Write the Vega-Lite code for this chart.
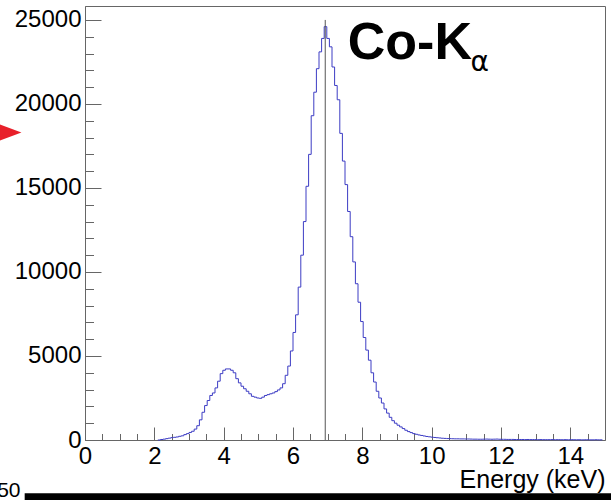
{
  "$schema": "https://vega.github.io/schema/vega-lite/v6.json",
  "autosize": {"type": "none"},
  "padding": {"left": 85, "top": 6, "right": 6, "bottom": 60},
  "width": 520,
  "height": 434,
  "background": "white",
  "config": {
    "view": {"stroke": "#666", "strokeWidth": 1},
    "axis": {
      "grid": false,
      "labelFont": "Liberation Sans",
      "labelFontSize": 24,
      "labelColor": "#000",
      "labelOverlap": false,
      "labelFlush": false,
      "tickColor": "#666",
      "domainColor": "#666",
      "titleFont": "Liberation Sans",
      "titleFontWeight": "normal",
      "titleFontSize": 25,
      "titleColor": "#000"
    }
  },
  "datasets": {
    "spectrum": [
      {"e": 2.1, "n": 0}, {"e": 2.175, "n": 30}, {"e": 2.25, "n": 50}, {"e": 2.325, "n": 80},
      {"e": 2.4, "n": 110}, {"e": 2.475, "n": 140}, {"e": 2.55, "n": 160}, {"e": 2.625, "n": 180},
      {"e": 2.7, "n": 220}, {"e": 2.775, "n": 250}, {"e": 2.85, "n": 320}, {"e": 2.925, "n": 380},
      {"e": 3.0, "n": 450}, {"e": 3.075, "n": 520}, {"e": 3.15, "n": 650}, {"e": 3.225, "n": 850},
      {"e": 3.3, "n": 1200}, {"e": 3.375, "n": 1650}, {"e": 3.45, "n": 2050}, {"e": 3.525, "n": 2350},
      {"e": 3.6, "n": 2650}, {"e": 3.675, "n": 2800}, {"e": 3.75, "n": 3100}, {"e": 3.825, "n": 3500},
      {"e": 3.9, "n": 3950}, {"e": 3.975, "n": 4150}, {"e": 4.05, "n": 4230}, {"e": 4.125, "n": 4230},
      {"e": 4.2, "n": 4150}, {"e": 4.275, "n": 4000}, {"e": 4.35, "n": 3650}, {"e": 4.425, "n": 3400},
      {"e": 4.5, "n": 3200}, {"e": 4.575, "n": 3050}, {"e": 4.65, "n": 2900}, {"e": 4.725, "n": 2750},
      {"e": 4.8, "n": 2600}, {"e": 4.875, "n": 2550}, {"e": 4.95, "n": 2500}, {"e": 5.025, "n": 2480},
      {"e": 5.1, "n": 2550}, {"e": 5.175, "n": 2650}, {"e": 5.25, "n": 2700}, {"e": 5.325, "n": 2750},
      {"e": 5.4, "n": 2800}, {"e": 5.475, "n": 2880}, {"e": 5.55, "n": 2980}, {"e": 5.625, "n": 3100},
      {"e": 5.7, "n": 3350}, {"e": 5.775, "n": 3850}, {"e": 5.85, "n": 4400}, {"e": 5.925, "n": 5300},
      {"e": 6.0, "n": 6400}, {"e": 6.075, "n": 7450}, {"e": 6.15, "n": 9100}, {"e": 6.225, "n": 11000},
      {"e": 6.3, "n": 13000}, {"e": 6.375, "n": 15100}, {"e": 6.45, "n": 17000}, {"e": 6.525, "n": 19300},
      {"e": 6.6, "n": 20700}, {"e": 6.675, "n": 22100}, {"e": 6.75, "n": 23100}, {"e": 6.825, "n": 23900},
      {"e": 6.9, "n": 24600}, {"e": 6.975, "n": 23900}, {"e": 7.05, "n": 23400}, {"e": 7.125, "n": 22200},
      {"e": 7.2, "n": 21100}, {"e": 7.275, "n": 20250}, {"e": 7.35, "n": 18250}, {"e": 7.425, "n": 16600},
      {"e": 7.5, "n": 15200}, {"e": 7.575, "n": 13600}, {"e": 7.65, "n": 12100}, {"e": 7.725, "n": 10600},
      {"e": 7.8, "n": 9300}, {"e": 7.875, "n": 8200}, {"e": 7.95, "n": 7050}, {"e": 8.025, "n": 6100},
      {"e": 8.1, "n": 5350}, {"e": 8.175, "n": 4750}, {"e": 8.25, "n": 4000}, {"e": 8.325, "n": 3450},
      {"e": 8.4, "n": 2900}, {"e": 8.475, "n": 2500}, {"e": 8.55, "n": 2200}, {"e": 8.625, "n": 1850},
      {"e": 8.7, "n": 1600}, {"e": 8.775, "n": 1350}, {"e": 8.85, "n": 1150}, {"e": 8.925, "n": 1000},
      {"e": 9.0, "n": 880}, {"e": 9.075, "n": 780}, {"e": 9.15, "n": 680}, {"e": 9.225, "n": 580},
      {"e": 9.3, "n": 500}, {"e": 9.375, "n": 440}, {"e": 9.45, "n": 380}, {"e": 9.525, "n": 340},
      {"e": 9.6, "n": 300}, {"e": 9.675, "n": 270}, {"e": 9.75, "n": 240}, {"e": 9.825, "n": 210},
      {"e": 9.9, "n": 190}, {"e": 9.975, "n": 170}, {"e": 10.05, "n": 150}, {"e": 10.125, "n": 135},
      {"e": 10.2, "n": 120}, {"e": 10.275, "n": 105}, {"e": 10.35, "n": 95}, {"e": 10.425, "n": 85},
      {"e": 10.5, "n": 80}, {"e": 10.575, "n": 75}, {"e": 10.65, "n": 70}, {"e": 10.725, "n": 70},
      {"e": 10.8, "n": 65}, {"e": 10.875, "n": 65}, {"e": 10.95, "n": 60}, {"e": 11.025, "n": 60},
      {"e": 11.1, "n": 55}, {"e": 11.175, "n": 50}, {"e": 11.25, "n": 50}, {"e": 11.325, "n": 45},
      {"e": 11.4, "n": 45}, {"e": 11.475, "n": 50}, {"e": 11.55, "n": 55}, {"e": 11.625, "n": 50},
      {"e": 11.7, "n": 45}, {"e": 11.775, "n": 50}, {"e": 11.85, "n": 55}, {"e": 11.925, "n": 45},
      {"e": 12.0, "n": 40}, {"e": 12.075, "n": 40}, {"e": 12.15, "n": 35}, {"e": 12.225, "n": 35},
      {"e": 12.3, "n": 35}, {"e": 12.375, "n": 30}, {"e": 12.45, "n": 30}, {"e": 12.525, "n": 30},
      {"e": 12.6, "n": 30}, {"e": 12.675, "n": 25}, {"e": 12.75, "n": 30}, {"e": 12.825, "n": 25},
      {"e": 12.9, "n": 25}, {"e": 12.975, "n": 25}, {"e": 13.05, "n": 20}, {"e": 13.125, "n": 25},
      {"e": 13.2, "n": 20}, {"e": 13.275, "n": 20}, {"e": 13.35, "n": 20}, {"e": 13.425, "n": 25},
      {"e": 13.5, "n": 20}, {"e": 13.575, "n": 20}, {"e": 13.65, "n": 20}, {"e": 13.725, "n": 15},
      {"e": 13.8, "n": 20}, {"e": 13.875, "n": 15}, {"e": 13.95, "n": 15}, {"e": 14.025, "n": 20},
      {"e": 14.1, "n": 15}, {"e": 14.175, "n": 15}, {"e": 14.25, "n": 15}, {"e": 14.325, "n": 10},
      {"e": 14.4, "n": 15}, {"e": 14.475, "n": 15}, {"e": 14.55, "n": 10}, {"e": 14.625, "n": 10},
      {"e": 14.7, "n": 15}, {"e": 14.775, "n": 10}, {"e": 14.85, "n": 10}, {"e": 14.925, "n": 10}
    ]
  },
  "layer": [
    {
      "data": {"name": "spectrum"},
      "mark": {"type": "line", "interpolate": "step-after", "stroke": "#3c3cc4", "strokeWidth": 1},
      "encoding": {
        "x": {
          "field": "e", "type": "quantitative",
          "scale": {"domain": [0, 15], "nice": false, "zero": false},
          "axis": {
            "orient": "bottom",
            "values": [0, 2, 4, 6, 8, 10, 12, 14],
            "tickSize": -13,
            "labelPadding": 17,
            "title": "Energy (keV)",
            "titleAnchor": "end",
            "titleAlign": "right",
            "titlePadding": -1
          }
        },
        "y": {
          "field": "n", "type": "quantitative",
          "scale": {"domain": [0, 25830], "nice": false},
          "axis": {
            "orient": "left",
            "values": [0, 5000, 10000, 15000, 20000, 25000],
            "tickSize": -16,
            "labelPadding": 20,
            "format": "d",
            "title": null
          }
        }
      }
    },
    {
      "data": {"values": [{"e": 6.93, "lo": 0, "hi": 25000}]},
      "mark": {"type": "rule", "stroke": "#555", "strokeWidth": 1},
      "encoding": {
        "x": {
          "field": "e", "type": "quantitative",
          "axis": {
            "orient": "bottom",
            "values": [0.5, 1, 1.5, 2.5, 3, 3.5, 4.5, 5, 5.5, 6.5, 7, 7.5, 8.5, 9, 9.5, 10.5, 11, 11.5, 12.5, 13, 13.5, 14.5],
            "tickSize": -6.5,
            "labels": false,
            "domain": false,
            "title": null
          }
        },
        "y": {
          "field": "lo", "type": "quantitative",
          "axis": {
            "orient": "left",
            "values": [1000, 2000, 3000, 4000, 6000, 7000, 8000, 9000, 11000, 12000, 13000, 14000, 16000, 17000, 18000, 19000, 21000, 22000, 23000, 24000],
            "tickSize": -8.5,
            "labels": false,
            "domain": false,
            "title": null
          }
        },
        "y2": {"field": "hi"}
      }
    },
    {
      "data": {"values": [{"x": 7.58, "y": 22680, "t": "Co-K"}]},
      "mark": {"type": "text", "font": "Liberation Sans", "fontWeight": "bold", "fontSize": 52, "align": "left", "baseline": "alphabetic", "color": "#000"},
      "encoding": {
        "x": {"field": "x", "type": "quantitative", "axis": null},
        "y": {"field": "y", "type": "quantitative", "axis": null},
        "text": {"field": "t"}
      }
    },
    {
      "data": {"values": [{"x": 11.12, "y": 21950, "t": "α"}]},
      "mark": {"type": "text", "font": "DejaVu Sans", "fontSize": 28, "align": "left", "baseline": "alphabetic", "color": "#000"},
      "encoding": {
        "x": {"field": "x", "type": "quantitative", "axis": null},
        "y": {"field": "y", "type": "quantitative", "axis": null},
        "text": {"field": "t"}
      }
    },
    {
      "data": {"values": [{"x": -1.74, "x2": 15.5, "y": -3170, "y2": -3700}]},
      "mark": {"type": "rect", "color": "#000", "clip": false},
      "encoding": {
        "x": {"field": "x", "type": "quantitative", "axis": null},
        "x2": {"field": "x2"},
        "y": {"field": "y", "type": "quantitative", "axis": null},
        "y2": {"field": "y2"}
      }
    },
    {
      "data": {"values": [{"x": -1.86, "y": -3375, "t": "50"}]},
      "mark": {"type": "text", "font": "Liberation Sans", "fontSize": 21, "align": "right", "baseline": "alphabetic", "color": "#000"},
      "encoding": {
        "x": {"field": "x", "type": "quantitative", "axis": null},
        "y": {"field": "y", "type": "quantitative", "axis": null},
        "text": {"field": "t"}
      }
    },
    {
      "data": {"values": [{"x": -2.15, "y": 18300}]},
      "mark": {"type": "point", "shape": "M-1,-0.75L1,0L-1,0.75Z", "filled": true, "size": 480, "color": "#e8202a", "opacity": 1},
      "encoding": {
        "x": {"field": "x", "type": "quantitative", "axis": null},
        "y": {"field": "y", "type": "quantitative", "axis": null}
      }
    }
  ],
  "resolve": {"axis": {"x": "independent", "y": "independent"}}
}
